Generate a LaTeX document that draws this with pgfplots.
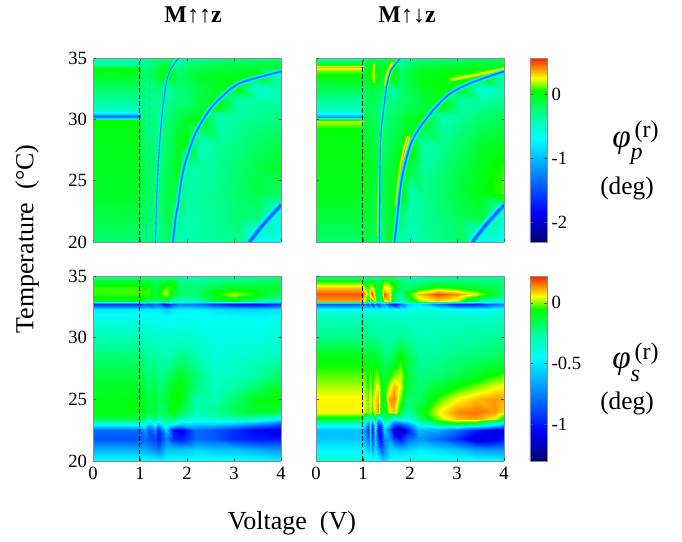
\documentclass[border=0pt]{standalone}
\usepackage{fontspec}
\setmainfont{Liberation Serif}
\usepackage{pgfplots}
\pgfplotsset{compat=1.18}
\definecolor{cH0}{rgb}{0,1,.85}
\definecolor{cHalo}{rgb}{0,.95,1}
\definecolor{cMid}{rgb}{0,.65,1}
\definecolor{cLine}{rgb}{0,.38,1}
\definecolor{cGrn}{rgb}{.2,1,0}
\definecolor{cYg}{rgb}{.7,1,0}
\definecolor{cYel}{rgb}{1,.95,0}
\definecolor{cOra}{rgb}{1,.65,0}
\definecolor{cFnt}{rgb}{0,.8,.9}
\newcommand{\cl}[3]{\addplot3[forget plot,no marks,smooth,color=#1,line width=#2,line cap=butt] coordinates {#3};}
\newcommand{\softb}[2]{\cl{cH0}{3.4pt*#1}{#2}\cl{cHalo}{2.4pt*#1}{#2}\cl{cMid}{1.5pt*#1}{#2}\cl{cLine}{.8pt*#1}{#2}}
\newcommand{\softy}[2]{\cl{cGrn}{3.6pt*#1}{#2}\cl{cYg}{2.6pt*#1}{#2}\cl{cYel}{1.7pt*#1}{#2}\cl{cOra}{.6pt*#1}{#2}}
\newcommand{\softg}[2]{\cl{cGrn}{3.6pt*#1}{#2}\cl{cYg}{2.4pt*#1}{#2}\cl{cYel}{1.2pt*#1}{#2}}
\pgfplotsset{
  colormap={ref}{rgb(0cm)=(0,0,.45); rgb(16cm)=(0,0,1); rgb(56cm)=(0,1,1); rgb(69cm)=(0,1,.6); rgb(82cm)=(0,1,0); rgb(89cm)=(1,1,0); rgb(94cm)=(1,.6,0); rgb(100cm)=(1,.12,0)},
  panel/.style={scale only axis,anchor=south west,width=141pt,height=138pt,view={0}{90},
    xmin=0,xmax=4,ymin=20,ymax=35,xtick={0,1,2,3,4},ytick={20,25,30,35},
    tick style={color=black!70,line width=.3pt},tick align=inside,major tick length=2pt,
    axis line style={color=black!45,line width=.5pt},
    tick label style={font=\fontsize{14}{16}\selectfont},
    /pgf/number format/assume math mode=true,
    colormap name=ref,xticklabel style={yshift=-1pt},yticklabel style={xshift=-1pt}},
  bar/.style={colorbar,colorbar style={at={(1.138,0)},anchor=south west,width=12.75pt,height=138.75pt,
    axis line style={color=black!45,line width=.5pt},tick style={color=black!70,line width=.3pt},major tick length=2pt,
    tick label style={font=\fontsize{14}{16}\selectfont},
    #1}},
  topmeta/.style={point meta min=-2.31,point meta max=.56},
  botmeta/.style={point meta min=-1.30,point meta max=.22},
  hm/.style={surf,shader=interp,mesh/ordering=x varies,forget plot}
}
\begin{document}
\begin{tikzpicture}
\path[use as bounding box] (0,0) rectangle (511.5pt,406.5pt);

% ---------- top left
\begin{axis}[panel,topmeta,at={(69.75pt,225pt)},xticklabels={}]
\addplot3[hm] coordinates {
(0,20,-.22)(.99,20,-.22)(1.02,20,-.25)(1.2,20,-.22)(1.4,20,-.28)(1.6,20,-.2)(1.8,20,-.4)(2,20,-.45)(2.3,20,-.38)(2.7,20,-.33)(3.1,20,-.3)(3.5,20,-.7)(4,20,-.7)

(0,22,-.12)(.99,22,-.12)(1.02,22,-.2)(1.2,22,-.2)(1.4,22,-.25)(1.6,22,-.12)(1.8,22,-.3)(2,22,-.42)(2.3,22,-.36)(2.7,22,-.3)(3.1,22,-.22)(3.5,22,-.25)(4,22,-.6)

(0,24,-.05)(.99,24,-.05)(1.02,24,-.15)(1.2,24,-.18)(1.4,24,-.22)(1.6,24,-.1)(1.8,24,-.1)(2,24,-.38)(2.3,24,-.35)(2.7,24,-.28)(3.1,24,-.2)(3.5,24,-.12)(4,24,-.2)

(0,26,-.03)(.99,26,-.03)(1.02,26,-.15)(1.2,26,-.18)(1.4,26,-.25)(1.6,26,-.15)(1.8,26,-.02)(2,26,-.4)(2.3,26,-.38)(2.7,26,-.3)(3.1,26,-.22)(3.5,26,-.12)(4,26,-.05)

(0,28,-.02)(.99,28,-.02)(1.02,28,-.2)(1.2,28,-.22)(1.4,28,-.3)(1.6,28,-.2)(1.8,28,-.02)(2,28,0)(2.3,28,-.45)(2.7,28,-.33)(3.1,28,-.27)(3.5,28,-.2)(4,28,-.12)

(0,29.95,.03)(.99,29.95,.03)(1.02,29.95,-.22)(1.2,29.95,-.25)(1.4,29.95,-.3)(1.6,29.95,-.25)(1.8,29.95,-.1)(2,29.95,-.03)(2.3,29.95,-.02)(2.7,29.95,-.42)(3.1,29.95,-.33)(3.5,29.95,-.3)(4,29.95,-.25)

(0,30.1,-.9)(.99,30.1,-.9)(1.02,30.1,-.23)(1.2,30.1,-.25)(1.4,30.1,-.3)(1.6,30.1,-.25)(1.8,30.1,-.12)(2,30.1,-.05)(2.3,30.1,-.03)(2.7,30.1,-.42)(3.1,30.1,-.34)(3.5,30.1,-.3)(4,30.1,-.25)

(0,30.25,-1.45)(.99,30.25,-1.45)(1.02,30.25,-.23)(1.2,30.25,-.26)(1.4,30.25,-.3)(1.6,30.25,-.26)(1.8,30.25,-.14)(2,30.25,-.07)(2.3,30.25,-.04)(2.7,30.25,-.42)(3.1,30.25,-.35)(3.5,30.25,-.31)(4,30.25,-.26)

(0,30.4,-.9)(.99,30.4,-.9)(1.02,30.4,-.24)(1.2,30.4,-.26)(1.4,30.4,-.3)(1.6,30.4,-.27)(1.8,30.4,-.16)(2,30.4,-.1)(2.3,30.4,-.05)(2.7,30.4,-.4)(3.1,30.4,-.36)(3.5,30.4,-.32)(4,30.4,-.27)

(0,30.7,-.5)(.99,30.7,-.5)(1.02,30.7,-.25)(1.2,30.7,-.27)(1.4,30.7,-.3)(1.6,30.7,-.28)(1.8,30.7,-.2)(2,30.7,-.15)(2.3,30.7,-.07)(2.7,30.7,-.1)(3.1,30.7,-.38)(3.5,30.7,-.33)(4,30.7,-.3)

(0,31.5,-.35)(.99,31.5,-.35)(1.02,31.5,-.3)(1.2,31.5,-.3)(1.4,31.5,-.32)(1.6,31.5,-.3)(1.8,31.5,-.25)(2,31.5,-.22)(2.3,31.5,-.1)(2.7,31.5,-.02)(3.1,31.5,-.42)(3.5,31.5,-.38)(4,31.5,-.35)

(0,32.5,-.2)(.99,32.5,-.2)(1.02,32.5,-.25)(1.2,32.5,-.25)(1.4,32.5,-.25)(1.6,32.5,-.4)(1.8,32.5,-.25)(2,32.5,-.2)(2.3,32.5,-.12)(2.7,32.5,-.05)(3.1,32.5,-.03)(3.5,32.5,-.55)(4,32.5,-.42)

(0,33.5,-.05)(.99,33.5,-.05)(1.02,33.5,-.2)(1.2,33.5,-.2)(1.4,33.5,-.05)(1.6,33.5,.05)(1.8,33.5,-.2)(2,33.5,-.12)(2.3,33.5,-.05)(2.7,33.5,-.03)(3.1,33.5,-.02)(3.5,33.5,-.02)(4,33.5,-.5)

(0,34.25,.05)(.99,34.25,.05)(1.02,34.25,-.3)(1.2,34.25,-.25)(1.4,34.25,-.1)(1.6,34.25,-.05)(1.8,34.25,-.3)(2,34.25,-.2)(2.3,34.25,-.15)(2.7,34.25,-.12)(3.1,34.25,-.1)(3.5,34.25,-.08)(4,34.25,-.05)

(0,34.35,-.35)(.99,34.35,-.35)(1.02,34.35,-.3)(1.2,34.35,-.26)(1.4,34.35,-.12)(1.6,34.35,-.07)(1.8,34.35,-.3)(2,34.35,-.21)(2.3,34.35,-.16)(2.7,34.35,-.13)(3.1,34.35,-.11)(3.5,34.35,-.09)(4,34.35,-.07)

(0,35,-.38)(.99,35,-.38)(1.02,35,-.38)(1.2,35,-.35)(1.4,35,-.3)(1.6,35,-.32)(1.8,35,-.38)(2,35,-.36)(2.3,35,-.33)(2.7,35,-.3)(3.1,35,-.28)(3.5,35,-.25)(4,35,-.2)
};
\softb{1}{(1.70,20,0)(1.76,22,0)(1.81,23,0)(1.88,25,0)(1.99,26.8,0)(2.2,29,0)(2.55,31.1,0)(3.05,32.8,0)(3.55,33.45,0)(4,33.9,0)}
\softb{.55}{(1.33,20,0)(1.36,24,0)(1.4,27,0)(1.46,30,0)(1.54,32.5,0)(1.62,33.8,0)(1.78,34.8,0)(1.85,35,0)}
\softb{2}{(3.33,20,0)(3.62,21.4,0)(4,23,0)}
\addplot3[forget plot,no marks,color=cFnt,line width=.5pt,dashed] coordinates {(1.22,21,0)(1.21,27,0)(1.2,33.5,0)};
\addplot3[forget plot,no marks,color=cFnt,line width=.5pt] coordinates {(1.13,20,0)(1.13,21.5,0)};
\addplot3[forget plot,no marks,color=black,line width=.7pt,dash pattern=on 3.5pt off 1.6pt] coordinates {(.99,20,0)(.99,35,0)};
\end{axis}

% ---------- top right
\begin{axis}[panel,topmeta,at={(237pt,225pt)},xticklabels={},yticklabels={},
  bar={ytick={-2,-1,0},yticklabels={-2,-1,0},height=138pt}]
\addplot3[hm] coordinates {
(0,20,-.22)(.99,20,-.22)(1.02,20,-.1)(1.2,20,-.15)(1.4,20,-.25)(1.6,20,0)(1.8,20,-.4)(2,20,-.45)(2.3,20,-.35)(2.7,20,-.28)(3.1,20,-.2)(3.5,20,-.65)(4,20,-.7)

(0,22,-.1)(.99,22,-.1)(1.02,22,-.08)(1.2,22,-.1)(1.4,22,-.2)(1.6,22,-.02)(1.8,22,-.25)(2,22,-.42)(2.3,22,-.32)(2.7,22,-.25)(3.1,22,-.15)(3.5,22,-.1)(4,22,-.55)

(0,24,-.02)(.99,24,-.02)(1.02,24,-.02)(1.2,24,-.08)(1.4,24,-.15)(1.6,24,-.05)(1.8,24,.1)(2,24,-.4)(2.3,24,-.3)(2.7,24,-.2)(3.1,24,-.08)(3.5,24,0)(4,24,.1)

(0,26,0)(.99,26,0)(1.02,26,0)(1.2,26,-.05)(1.4,26,-.15)(1.6,26,-.1)(1.8,26,.15)(2,26,-.1)(2.3,26,-.35)(2.7,26,-.25)(3.1,26,-.12)(3.5,26,-.02)(4,26,.08)

(0,28,0)(.99,28,0)(1.02,28,-.05)(1.2,28,-.1)(1.4,28,-.2)(1.6,28,-.15)(1.8,28,-.05)(2,28,.08)(2.3,28,-.42)(2.7,28,-.3)(3.1,28,-.2)(3.5,28,-.08)(4,28,-.02)

(0,29.2,.03)(.99,29.2,.03)(1.02,29.2,-.08)(1.2,29.2,-.13)(1.4,29.2,-.22)(1.6,29.2,-.18)(1.8,29.2,-.1)(2,29.2,-.02)(2.3,29.2,-.1)(2.7,29.2,-.36)(3.1,29.2,-.26)(3.5,29.2,-.16)(4,29.2,-.1)

(0,29.9,.2)(.99,29.9,.2)(1.02,29.9,-.1)(1.2,29.9,-.15)(1.4,29.9,-.25)(1.6,29.9,-.2)(1.8,29.9,-.12)(2,29.9,-.03)(2.3,29.9,0)(2.7,29.9,-.42)(3.1,29.9,-.3)(3.5,29.9,-.22)(4,29.9,-.15)

(0,30.08,-.5)(.99,30.08,-.5)(1.02,30.08,-.11)(1.2,30.08,-.16)(1.4,30.08,-.25)(1.6,30.08,-.2)(1.8,30.08,-.13)(2,30.08,-.05)(2.3,30.08,-.02)(2.7,30.08,-.42)(3.1,30.08,-.31)(3.5,30.08,-.23)(4,30.08,-.16)

(0,30.22,-1.15)(.99,30.22,-1.15)(1.02,30.22,-.11)(1.2,30.22,-.16)(1.4,30.22,-.26)(1.6,30.22,-.21)(1.8,30.22,-.14)(2,30.22,-.06)(2.3,30.22,-.03)(2.7,30.22,-.42)(3.1,30.22,-.32)(3.5,30.22,-.24)(4,30.22,-.17)

(0,30.4,-.75)(.99,30.4,-.75)(1.02,30.4,-.12)(1.2,30.4,-.17)(1.4,30.4,-.26)(1.6,30.4,-.22)(1.8,30.4,-.15)(2,30.4,-.08)(2.3,30.4,-.05)(2.7,30.4,-.4)(3.1,30.4,-.33)(3.5,30.4,-.25)(4,30.4,-.18)

(0,30.7,-.5)(.99,30.7,-.5)(1.02,30.7,-.15)(1.2,30.7,-.18)(1.4,30.7,-.27)(1.6,30.7,-.24)(1.8,30.7,-.18)(2,30.7,-.12)(2.3,30.7,-.08)(2.7,30.7,-.1)(3.1,30.7,-.36)(3.5,30.7,-.28)(4,30.7,-.22)

(0,31.5,-.35)(.99,31.5,-.35)(1.02,31.5,-.18)(1.2,31.5,-.15)(1.4,31.5,-.27)(1.6,31.5,-.3)(1.8,31.5,-.22)(2,31.5,-.18)(2.3,31.5,-.08)(2.7,31.5,-.02)(3.1,31.5,-.42)(3.5,31.5,-.36)(4,31.5,-.3)

(0,32.5,-.15)(.99,32.5,-.15)(1.02,32.5,-.15)(1.2,32.5,-.1)(1.4,32.5,-.15)(1.6,32.5,-.4)(1.8,32.5,-.22)(2,32.5,-.15)(2.3,32.5,-.03)(2.7,32.5,.02)(3.1,32.5,-.05)(3.5,32.5,-.55)(4,32.5,-.42)

(0,33.5,.02)(.99,33.5,.02)(1.02,33.5,-.1)(1.2,33.5,.15)(1.4,33.5,-.05)(1.6,33.5,.1)(1.8,33.5,-.2)(2,33.5,-.08)(2.3,33.5,.02)(2.7,33.5,.03)(3.1,33.5,.1)(3.5,33.5,.05)(4,33.5,-.5)

(0,34.05,.14)(.99,34.05,.14)(1.02,34.05,-.15)(1.2,34.05,.1)(1.4,34.05,-.05)(1.6,34.05,.12)(1.8,34.05,-.25)(2,34.05,-.12)(2.3,34.05,-.05)(2.7,34.05,-.02)(3.1,34.05,.02)(3.5,34.05,.08)(4,34.05,.15)

(0,34.3,.34)(.99,34.3,.34)(1.02,34.3,-.15)(1.2,34.3,.05)(1.4,34.3,-.08)(1.6,34.3,.05)(1.8,34.3,-.28)(2,34.3,-.16)(2.3,34.3,-.1)(2.7,34.3,-.08)(3.1,34.3,-.05)(3.5,34.3,-.03)(4,34.3,-.02)

(0,34.5,-.05)(.99,34.5,-.05)(1.02,34.5,-.18)(1.2,34.5,0)(1.4,34.5,-.12)(1.6,34.5,-.05)(1.8,34.5,-.32)(2,34.5,-.2)(2.3,34.5,-.14)(2.7,34.5,-.12)(3.1,34.5,-.1)(3.5,34.5,-.08)(4,34.5,-.06)

(0,35,-.38)(.99,35,-.38)(1.02,35,-.25)(1.2,35,-.15)(1.4,35,-.2)(1.6,35,-.2)(1.8,35,-.38)(2,35,-.34)(2.3,35,-.3)(2.7,35,-.28)(3.1,35,-.25)(3.5,35,-.22)(4,35,-.18)
};
\softy{1.1}{(1.72,23,0)(1.78,25,0)(1.86,27,0)(1.97,28.6,0)}
\softg{.9}{(2.85,33.2,0)(3.3,33.55,0)(3.7,33.85,0)(4,34.1,0)}
\softy{1.4}{(1.5,32.7,0)(1.53,33.5,0)(1.6,34.2,0)(1.66,34.6,0)}
\softg{.6}{(1.24,33,0)(1.23,33.6,0)(1.24,34.6,0)}
\softg{.4}{(1.31,20.5,0)(1.33,24,0)(1.37,27,0)(1.42,30,0)}
\softb{1}{(1.67,20,0)(1.73,22,0)(1.83,25.2,0)(2.04,28.2,0)(2.4,30.3,0)(2.82,32,0)(3.32,33,0)(4,33.9,0)}
\softb{.55}{(1.35,20,0)(1.37,27.9,0)(1.43,30.5,0)(1.51,32.8,0)(1.6,34,0)(1.8,35,0)}
\softb{2}{(3.33,20,0)(3.62,21.4,0)(4,23,0)}
\addplot3[forget plot,no marks,color=black,line width=.7pt,dash pattern=on 3.5pt off 1.6pt] coordinates {(.98,20,0)(.98,35,0)};
\end{axis}

% ---------- bottom left
\begin{axis}[panel,botmeta,at={(69.75pt,60.75pt)},height=138.75pt]
\addplot3[hm] coordinates {
(0,20,-.42)(.98,20,-.42)(1.1,20,-.42)(1.2,20,-.43)(1.31,20,-.43)(1.38,20,-.45)(1.55,20,-.42)(1.7,20,-.42)(1.85,20,-.42)(2.2,20,-.42)(2.6,20,-.42)(3,20,-.42)(3.4,20,-.43)(3.8,20,-.44)(4,20,-.45)

(0,21,-.65)(.98,21,-.65)(1.1,21,-.65)(1.2,21,-.7)(1.31,21,-.75)(1.38,21,-.8)(1.55,21,-.6)(1.7,21,-.6)(1.85,21,-.6)(2.2,21,-.55)(2.6,21,-.6)(3,21,-.6)(3.4,21,-.65)(3.8,21,-.7)(4,21,-.7)

(0,21.8,-.85)(.98,21.8,-.85)(1.1,21.8,-.8)(1.2,21.8,-.85)(1.31,21.8,-.9)(1.38,21.8,-1)(1.55,21.8,-.75)(1.7,21.8,-.95)(1.85,21.8,-1)(2.2,21.8,-.8)(2.6,21.8,-.85)(3,21.8,-.95)(3.4,21.8,-1)(3.8,21.8,-1)(4,21.8,-1)

(0,22.5,-.8)(.98,22.5,-.8)(1.1,22.5,-.7)(1.2,22.5,-.9)(1.31,22.5,-.7)(1.38,22.5,-1)(1.55,22.5,-.55)(1.7,22.5,-1)(1.85,22.5,-1.1)(2.2,22.5,-.8)(2.6,22.5,-.85)(3,22.5,-.95)(3.4,22.5,-1.05)(3.8,22.5,-1.1)(4,22.5,-1.1)

(0,23,-.4)(.98,23,-.4)(1.1,23,-.4)(1.2,23,-.6)(1.31,23,-.4)(1.38,23,-.6)(1.55,23,-.35)(1.7,23,-.4)(1.85,23,-.55)(2.2,23,-.55)(2.6,23,-.55)(3,23,-.6)(3.4,23,-.7)(3.8,23,-.8)(4,23,-.85)

(0,23.4,-.15)(.98,23.4,-.15)(1.1,23.4,-.2)(1.2,23.4,-.3)(1.31,23.4,-.2)(1.38,23.4,-.3)(1.55,23.4,-.2)(1.7,23.4,-.2)(1.85,23.4,-.3)(2.2,23.4,-.38)(2.6,23.4,-.35)(3,23.4,-.3)(3.4,23.4,-.3)(3.8,23.4,-.4)(4,23.4,-.5)

(0,24,-.07)(.98,24,-.07)(1.1,24,-.1)(1.2,24,-.15)(1.31,24,-.1)(1.38,24,-.2)(1.55,24,-.15)(1.7,24,-.03)(1.85,24,-.15)(2.2,24,-.3)(2.6,24,-.25)(3,24,-.15)(3.4,24,-.1)(3.8,24,-.1)(4,24,-.15)

(0,25,-.08)(.98,25,-.08)(1.1,25,-.12)(1.2,25,-.15)(1.31,25,-.1)(1.38,25,-.18)(1.55,25,-.12)(1.7,25,-.05)(1.85,25,-.05)(2.2,25,-.28)(2.6,25,-.3)(3,25,-.2)(3.4,25,-.1)(3.8,25,-.05)(4,25,-.05)

(0,26,-.1)(.98,26,-.1)(1.1,26,-.14)(1.2,26,-.18)(1.31,26,-.12)(1.38,26,-.2)(1.55,26,-.15)(1.7,26,-.08)(1.85,26,-.05)(2.2,26,-.2)(2.6,26,-.33)(3,26,-.27)(3.4,26,-.2)(3.8,26,-.12)(4,26,-.1)

(0,27,-.13)(.98,27,-.13)(1.1,27,-.18)(1.2,27,-.2)(1.31,27,-.18)(1.38,27,-.25)(1.55,27,-.2)(1.7,27,-.15)(1.85,27,-.1)(2.2,27,-.2)(2.6,27,-.35)(3,27,-.32)(3.4,27,-.28)(3.8,27,-.22)(4,27,-.18)

(0,28.5,-.2)(.98,28.5,-.2)(1.1,28.5,-.25)(1.2,28.5,-.27)(1.31,28.5,-.25)(1.38,28.5,-.28)(1.55,28.5,-.3)(1.7,28.5,-.28)(1.85,28.5,-.22)(2.2,28.5,-.28)(2.6,28.5,-.38)(3,28.5,-.36)(3.4,28.5,-.35)(3.8,28.5,-.32)(4,28.5,-.3)

(0,30,-.3)(.98,30,-.3)(1.1,30,-.33)(1.2,30,-.34)(1.31,30,-.34)(1.38,30,-.35)(1.55,30,-.36)(1.7,30,-.36)(1.85,30,-.35)(2.2,30,-.36)(2.6,30,-.4)(3,30,-.4)(3.4,30,-.4)(3.8,30,-.38)(4,30,-.37)

(0,31.5,-.4)(.98,31.5,-.4)(1.1,31.5,-.4)(1.2,31.5,-.4)(1.31,31.5,-.41)(1.38,31.5,-.41)(1.55,31.5,-.42)(1.7,31.5,-.42)(1.85,31.5,-.42)(2.2,31.5,-.42)(2.6,31.5,-.43)(3,31.5,-.43)(3.4,31.5,-.43)(3.8,31.5,-.42)(4,31.5,-.42)

(0,32.3,-.5)(.98,32.3,-.5)(1.1,32.3,-.5)(1.2,32.3,-.5)(1.31,32.3,-.5)(1.38,32.3,-.5)(1.55,32.3,-.55)(1.7,32.3,-.5)(1.85,32.3,-.48)(2.2,32.3,-.48)(2.6,32.3,-.52)(3,32.3,-.55)(3.4,32.3,-.55)(3.8,32.3,-.52)(4,32.3,-.5)

(0,32.7,-.95)(.98,32.7,-.95)(1.1,32.7,-.85)(1.2,32.7,-.95)(1.31,32.7,-.8)(1.38,32.7,-.85)(1.55,32.7,-1.1)(1.7,32.7,-.85)(1.85,32.7,-.75)(2.2,32.7,-.8)(2.6,32.7,-.95)(3,32.7,-1.05)(3.4,32.7,-1.08)(3.8,32.7,-1)(4,32.7,-.95)

(0,33,-.1)(.98,33,-.1)(1.1,33,-.12)(1.2,33,-.2)(1.31,33,-.15)(1.38,33,-.2)(1.55,33,-.1)(1.7,33,-.3)(1.85,33,-.32)(2.2,33,-.3)(2.6,33,-.15)(3,33,-.1)(3.4,33,-.2)(3.8,33,-.3)(4,33,-.33)

(0,33.5,-.03)(.98,33.5,-.03)(1.1,33.5,-.03)(1.2,33.5,-.02)(1.31,33.5,-.15)(1.38,33.5,-.08)(1.55,33.5,.03)(1.7,33.5,-.1)(1.85,33.5,-.2)(2.2,33.5,-.18)(2.6,33.5,-.05)(3,33.5,.02)(3.4,33.5,-.03)(3.8,33.5,-.12)(4,33.5,-.16)

(0,34,-.03)(.98,34,-.03)(1.1,34,-.06)(1.2,34,-.03)(1.31,34,-.16)(1.38,34,-.1)(1.55,34,-.02)(1.7,34,-.02)(1.85,34,-.2)(2.2,34,-.2)(2.6,34,-.14)(3,34,-.08)(3.4,34,-.1)(3.8,34,-.12)(4,34,-.14)

(0,34.6,-.1)(.98,34.6,-.1)(1.1,34.6,-.12)(1.2,34.6,-.08)(1.31,34.6,-.2)(1.38,34.6,-.15)(1.55,34.6,-.1)(1.7,34.6,-.08)(1.85,34.6,-.22)(2.2,34.6,-.25)(2.6,34.6,-.22)(3,34.6,-.2)(3.4,34.6,-.18)(3.8,34.6,-.16)(4,34.6,-.16)

(0,35,-.3)(.98,35,-.3)(1.1,35,-.3)(1.2,35,-.28)(1.31,35,-.3)(1.38,35,-.3)(1.55,35,-.3)(1.7,35,-.3)(1.85,35,-.32)(2.2,35,-.32)(2.6,35,-.3)(3,35,-.3)(3.4,35,-.3)(3.8,35,-.28)(4,35,-.28)
};
\addplot3[forget plot,no marks,color=black,line width=.7pt,dash pattern=on 3.5pt off 1.6pt] coordinates {(.99,20,0)(.99,35,0)};
\end{axis}

% ---------- bottom right
\begin{axis}[panel,botmeta,at={(237pt,60.75pt)},height=138.75pt,yticklabels={},
  bar={ytick={-1,-.5,0},yticklabels={-1,-0.5,0}}]
\addplot3[hm] coordinates {
(0,20,-.36)(.98,20,-.36)(1.05,20,-.38)(1.1,20,-.4)(1.15,20,-.38)(1.2,20,-.42)(1.25,20,-.38)(1.31,20,-.42)(1.38,20,-.5)(1.45,20,-.55)(1.55,20,-.45)(1.65,20,-.42)(1.78,20,-.4)(1.95,20,-.38)(2.2,20,-.38)(2.6,20,-.4)(3,20,-.4)(3.4,20,-.42)(3.8,20,-.42)(4,20,-.45)

(0,21,-.47)(.98,21,-.47)(1.05,21,-.5)(1.1,21,-.6)(1.15,21,-.5)(1.2,21,-.7)(1.25,21,-.5)(1.31,21,-.7)(1.38,21,-.85)(1.45,21,-.75)(1.55,21,-.55)(1.65,21,-.55)(1.78,21,-.6)(1.95,21,-.55)(2.2,21,-.5)(2.6,21,-.55)(3,21,-.6)(3.4,21,-.7)(3.8,21,-.72)(4,21,-.7)

(0,21.8,-.58)(.98,21.8,-.58)(1.05,21.8,-.65)(1.1,21.8,-.8)(1.15,21.8,-.55)(1.2,21.8,-.9)(1.25,21.8,-.55)(1.31,21.8,-.95)(1.38,21.8,-1)(1.45,21.8,-.75)(1.55,21.8,-.7)(1.65,21.8,-.9)(1.78,21.8,-1)(1.95,21.8,-.8)(2.2,21.8,-.7)(2.6,21.8,-.8)(3,21.8,-.95)(3.4,21.8,-1.15)(3.8,21.8,-1.1)(4,21.8,-1)

(0,22.5,-.6)(.98,22.5,-.6)(1.05,22.5,-.7)(1.1,22.5,-.95)(1.15,22.5,-.5)(1.2,22.5,-1)(1.25,22.5,-.5)(1.31,22.5,-1.05)(1.38,22.5,-1)(1.45,22.5,-.55)(1.55,22.5,-.8)(1.65,22.5,-1.15)(1.78,22.5,-1.2)(1.95,22.5,-1)(2.2,22.5,-.6)(2.6,22.5,-.65)(3,22.5,-.8)(3.4,22.5,-1)(3.8,22.5,-1.15)(4,22.5,-1.15)

(0,23,-.35)(.98,23,-.35)(1.05,23,-.5)(1.1,23,-.8)(1.15,23,-.35)(1.2,23,-.9)(1.25,23,-.3)(1.31,23,-.95)(1.38,23,-.8)(1.45,23,-.35)(1.55,23,-.5)(1.65,23,-.85)(1.78,23,-.85)(1.95,23,-.7)(2.2,23,-.4)(2.6,23,-.2)(3,23,-.1)(3.4,23,-.15)(3.8,23,-.4)(4,23,-.6)

(0,23.4,-.1)(.98,23.4,-.1)(1.05,23.4,-.2)(1.1,23.4,-.5)(1.15,23.4,-.1)(1.2,23.4,-.5)(1.25,23.4,-.1)(1.31,23.4,-.6)(1.38,23.4,-.45)(1.45,23.4,-.2)(1.55,23.4,-.25)(1.65,23.4,-.45)(1.78,23.4,-.35)(1.95,23.4,-.4)(2.2,23.4,-.2)(2.6,23.4,0)(3,23.4,.1)(3.4,23.4,.12)(3.8,23.4,.05)(4,23.4,-.1)

(0,24,.06)(.98,24,.06)(1.05,24,.03)(1.1,24,-.02)(1.15,24,.08)(1.2,24,-.05)(1.25,24,.08)(1.31,24,.14)(1.38,24,-.1)(1.45,24,-.15)(1.55,24,.05)(1.65,24,.1)(1.78,24,-.1)(1.95,24,-.3)(2.2,24,-.1)(2.6,24,.05)(3,24,.14)(3.4,24,.16)(3.8,24,.13)(4,24,.08)

(0,25,.06)(.98,25,.06)(1.05,25,.03)(1.1,25,-.02)(1.15,25,.08)(1.2,25,0)(1.25,25,.06)(1.31,25,.13)(1.38,25,-.05)(1.45,25,-.1)(1.55,25,.12)(1.65,25,.15)(1.78,25,0)(1.95,25,-.2)(2.2,25,-.18)(2.6,25,-.03)(3,25,.05)(3.4,25,.1)(3.8,25,.13)(4,25,.12)

(0,26,.02)(.98,26,.02)(1.05,26,0)(1.1,26,-.05)(1.15,26,.02)(1.2,26,-.05)(1.25,26,.03)(1.31,26,.06)(1.38,26,-.05)(1.45,26,-.1)(1.55,26,.03)(1.65,26,.12)(1.78,26,.05)(1.95,26,-.15)(2.2,26,-.2)(2.6,26,-.12)(3,26,-.05)(3.4,26,0)(3.8,26,.05)(4,26,.06)

(0,27,-.02)(.98,27,-.02)(1.05,27,-.03)(1.1,27,-.07)(1.15,27,-.01)(1.2,27,-.07)(1.25,27,-.02)(1.31,27,-.02)(1.38,27,-.1)(1.45,27,-.15)(1.55,27,-.08)(1.65,27,0)(1.78,27,.03)(1.95,27,-.12)(2.2,27,-.22)(2.6,27,-.2)(3,27,-.15)(3.4,27,-.1)(3.8,27,-.05)(4,27,-.02)

(0,28.5,-.08)(.98,28.5,-.08)(1.05,28.5,-.1)(1.1,28.5,-.12)(1.15,28.5,-.08)(1.2,28.5,-.12)(1.25,28.5,-.1)(1.31,28.5,-.12)(1.38,28.5,-.15)(1.45,28.5,-.2)(1.55,28.5,-.2)(1.65,28.5,-.15)(1.78,28.5,-.06)(1.95,28.5,-.15)(2.2,28.5,-.25)(2.6,28.5,-.25)(3,28.5,-.22)(3.4,28.5,-.2)(3.8,28.5,-.18)(4,28.5,-.15)

(0,30,-.22)(.98,30,-.22)(1.05,30,-.22)(1.1,30,-.23)(1.15,30,-.22)(1.2,30,-.24)(1.25,30,-.23)(1.31,30,-.25)(1.38,30,-.25)(1.45,30,-.27)(1.55,30,-.27)(1.65,30,-.27)(1.78,30,-.23)(1.95,30,-.25)(2.2,30,-.3)(2.6,30,-.3)(3,30,-.28)(3.4,30,-.26)(3.8,30,-.25)(4,30,-.25)

(0,31.5,-.3)(.98,31.5,-.3)(1.05,31.5,-.3)(1.1,31.5,-.3)(1.15,31.5,-.3)(1.2,31.5,-.3)(1.25,31.5,-.3)(1.31,31.5,-.3)(1.38,31.5,-.3)(1.45,31.5,-.32)(1.55,31.5,-.32)(1.65,31.5,-.32)(1.78,31.5,-.33)(1.95,31.5,-.33)(2.2,31.5,-.33)(2.6,31.5,-.33)(3,31.5,-.33)(3.4,31.5,-.33)(3.8,31.5,-.33)(4,31.5,-.33)

(0,32.3,-.45)(.98,32.3,-.45)(1.05,32.3,-.45)(1.1,32.3,-.42)(1.15,32.3,-.45)(1.2,32.3,-.42)(1.25,32.3,-.45)(1.31,32.3,-.42)(1.38,32.3,-.45)(1.45,32.3,-.45)(1.55,32.3,-.42)(1.65,32.3,-.4)(1.78,32.3,-.45)(1.95,32.3,-.42)(2.2,32.3,-.38)(2.6,32.3,-.4)(3,32.3,-.45)(3.4,32.3,-.45)(3.8,32.3,-.42)(4,32.3,-.4)

(0,32.7,-.85)(.98,32.7,-.85)(1.05,32.7,-.8)(1.1,32.7,-.9)(1.15,32.7,-.7)(1.2,32.7,-1)(1.25,32.7,-.7)(1.31,32.7,-1)(1.38,32.7,-.7)(1.45,32.7,-.7)(1.55,32.7,-.9)(1.65,32.7,-1.1)(1.78,32.7,-.8)(1.95,32.7,-.55)(2.2,32.7,-.5)(2.6,32.7,-.8)(3,32.7,-1)(3.4,32.7,-1)(3.8,32.7,-.8)(4,32.7,-.75)

(0,33,.12)(.98,33,.12)(1.05,33,.05)(1.1,33,-.2)(1.15,33,.05)(1.2,33,-.1)(1.25,33,.1)(1.31,33,-.2)(1.38,33,-.25)(1.45,33,.05)(1.55,33,.1)(1.65,33,-.2)(1.78,33,-.3)(1.95,33,-.15)(2.2,33,0)(2.6,33,.08)(3,33,.02)(3.4,33,-.2)(3.8,33,-.38)(4,33,-.35)

(0,33.5,.18)(.98,33.5,.18)(1.05,33.5,.12)(1.1,33.5,-.02)(1.15,33.5,.1)(1.2,33.5,.19)(1.25,33.5,-.02)(1.31,33.5,-.15)(1.38,33.5,-.1)(1.45,33.5,.18)(1.55,33.5,.1)(1.65,33.5,-.15)(1.78,33.5,-.28)(1.95,33.5,-.05)(2.2,33.5,.1)(2.6,33.5,.19)(3,33.5,.14)(3.4,33.5,.05)(3.8,33.5,-.1)(4,33.5,-.2)

(0,34,.1)(.98,34,.1)(1.05,34,0)(1.1,34,-.05)(1.15,34,.04)(1.2,34,.06)(1.25,34,-.05)(1.31,34,-.12)(1.38,34,-.05)(1.45,34,.06)(1.55,34,.06)(1.65,34,-.05)(1.78,34,-.18)(1.95,34,-.22)(2.2,34,-.1)(2.6,34,-.01)(3,34,-.05)(3.4,34,-.1)(3.8,34,-.15)(4,34,-.2)

(0,34.6,-.05)(.98,34.6,-.05)(1.05,34.6,-.12)(1.1,34.6,-.15)(1.15,34.6,-.08)(1.2,34.6,-.08)(1.25,34.6,-.12)(1.31,34.6,-.2)(1.38,34.6,-.1)(1.45,34.6,-.02)(1.55,34.6,-.05)(1.65,34.6,-.08)(1.78,34.6,-.2)(1.95,34.6,-.25)(2.2,34.6,-.25)(2.6,34.6,-.2)(3,34.6,-.2)(3.4,34.6,-.2)(3.8,34.6,-.2)(4,34.6,-.22)

(0,35,-.27)(.98,35,-.27)(1.05,35,-.27)(1.1,35,-.27)(1.15,35,-.27)(1.2,35,-.27)(1.25,35,-.27)(1.31,35,-.27)(1.38,35,-.27)(1.45,35,-.27)(1.55,35,-.27)(1.65,35,-.27)(1.78,35,-.28)(1.95,35,-.28)(2.2,35,-.28)(2.6,35,-.28)(3,35,-.28)(3.4,35,-.28)(3.8,35,-.28)(4,35,-.28)
};
\addplot3[forget plot,no marks,color=black,line width=.7pt,dash pattern=on 3.5pt off 1.6pt] coordinates {(.98,20,0)(.98,35,0)};
\end{axis}

% ---------- text
\node[font=\bfseries\fontsize{18}{20}\selectfont] at (144.75pt,395pt) {M↑↑z};
\node[font=\bfseries\fontsize{18}{20}\selectfont] at (305.25pt,395pt) {M↑↓z};
\node[rotate=90,font=\fontsize{19.5}{22}\selectfont] at (20.25pt,227.25pt) {Temperature\ \ (°C)};
\node[font=\fontsize{19.5}{22}\selectfont] at (219pt,14.25pt) {Voltage\ \ (V)};
\node[anchor=base west,inner sep=0pt] at (459pt,295.5pt) {{\fontsize{25}{28}\selectfont\itshape φ}\rlap{\kern3pt\raisebox{8pt}{\fontsize{18}{20}\selectfont (r)}}\raisebox{-9pt}{\fontsize{18}{20}\selectfont\itshape p}};
\node[font=\fontsize{19}{21}\selectfont] at (470.25pt,265.5pt) {(deg)};
\node[anchor=base west,inner sep=0pt] at (459pt,129.75pt) {{\fontsize{25}{28}\selectfont\itshape φ}\rlap{\kern3pt\raisebox{7pt}{\fontsize{18}{20}\selectfont (r)}}\raisebox{-9.5pt}{\fontsize{18}{20}\selectfont\itshape s}};
\node[font=\fontsize{19}{21}\selectfont] at (470.25pt,104.25pt) {(deg)};
\end{tikzpicture}
\end{document}
